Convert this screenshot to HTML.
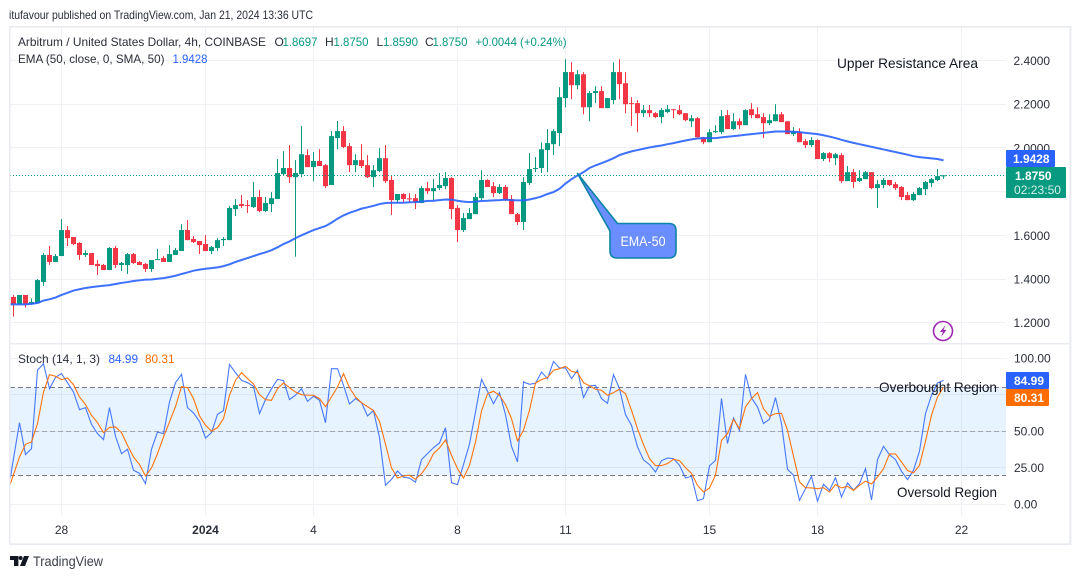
<!DOCTYPE html>
<html lang="en">
<head>
<meta charset="utf-8">
<title>Arbitrum / United States Dollar chart</title>
<style>
html,body{margin:0;padding:0;background:#fff;width:1080px;height:579px;overflow:hidden}
svg{display:block;font-family:"Liberation Sans",sans-serif}
text{font-size:12px;fill:#2a2e39}
</style>
</head>
<body>
<svg id="chart" width="1080" height="579" viewBox="0 0 1080 579" xmlns="http://www.w3.org/2000/svg">
<defs>
<clipPath id="pane-clip"><rect x="10" y="27" width="996" height="490"/></clipPath>
</defs>
<rect width="1080" height="579" fill="#ffffff"/>
<text x="9" y="19" textLength="304" lengthAdjust="spacingAndGlyphs">itufavour published on TradingView.com, Jan 21, 2024 13:36 UTC</text>
<g id="grid"></g>
<rect id="stoch-band" fill="#2196f3" fill-opacity="0.11" x="10" width="996"/>
<g id="levels"></g>
<g id="candles" clip-path="url(#pane-clip)"></g>
<line id="last-price-line" x1="10" x2="1006" stroke="#089981" stroke-width="1" stroke-dasharray="1 2"/>
<path id="ema-line" fill="none" stroke="#2962ff" stroke-opacity="0.9" stroke-width="2" clip-path="url(#pane-clip)"/>
<path id="stoch-k" fill="none" stroke="#2962ff" stroke-opacity="0.85" stroke-width="1.1" clip-path="url(#pane-clip)"/>
<path id="stoch-d" fill="none" stroke="#ff6d00" stroke-opacity="0.95" stroke-width="1.1" clip-path="url(#pane-clip)"/>

<g fill="#e9ebf1">
<rect x="9" y="26" width="1062" height="1.6"/>
<rect x="9" y="26" width="1.6" height="519"/>
<rect x="1069.4" y="26" width="2" height="519"/>
<rect x="9" y="543.4" width="1062" height="1.6"/>
<rect x="10" y="343" width="1060" height="1.5"/>
</g>

<g id="price-axis"></g>
<g id="stoch-axis"></g>
<g id="time-axis"></g>

<g>
<text x="18" y="46" textLength="248" lengthAdjust="spacingAndGlyphs">Arbitrum / United States Dollar, 4h, COINBASE</text>
<text x="274.5" y="46">O</text>
<text x="282.5" y="46" textLength="35" lengthAdjust="spacingAndGlyphs" style="fill:#089981">1.8697</text>
<text x="325" y="46">H</text>
<text x="333.5" y="46" textLength="35" lengthAdjust="spacingAndGlyphs" style="fill:#089981">1.8750</text>
<text x="376.5" y="46">L</text>
<text x="383" y="46" textLength="35" lengthAdjust="spacingAndGlyphs" style="fill:#089981">1.8590</text>
<text x="425" y="46">C</text>
<text x="432.5" y="46" textLength="35" lengthAdjust="spacingAndGlyphs" style="fill:#089981">1.8750</text>
<text x="475.5" y="46" textLength="91" lengthAdjust="spacingAndGlyphs" style="fill:#089981">+0.0044 (+0.24%)</text>
<text x="18" y="63" textLength="146.5" lengthAdjust="spacingAndGlyphs">EMA (50, close, 0, SMA, 50)</text>
<text x="172.5" y="63" textLength="35" lengthAdjust="spacingAndGlyphs" style="fill:#2962ff">1.9428</text>
</g>

<g>
<text x="18" y="363" textLength="82" lengthAdjust="spacingAndGlyphs">Stoch (14, 1, 3)</text>
<text x="108.5" y="363" textLength="29.5" lengthAdjust="spacingAndGlyphs" style="fill:#2962ff">84.99</text>
<text x="145" y="363" textLength="29.5" lengthAdjust="spacingAndGlyphs" style="fill:#ff6d00">80.31</text>
</g>

<text x="837" y="68" textLength="141" lengthAdjust="spacingAndGlyphs" style="font-size:14px;fill:#131722">Upper Resistance Area</text>
<text x="879" y="392" textLength="118" lengthAdjust="spacingAndGlyphs" style="font-size:14px;fill:#131722">Overbought Region</text>
<text x="897" y="497" textLength="100" lengthAdjust="spacingAndGlyphs" style="font-size:14px;fill:#131722">Oversold Region</text>

<g>
<path d="M577.5 173.5 L617.5 223.5 H669 Q676 223.5 676 230.5 V251 Q676 258 669 258 H617 Q610 258 610 251 V231 Z" fill="#6a8eff" stroke="#0b84a5" stroke-width="1.6" stroke-linejoin="round"/>
<text x="643" y="246" text-anchor="middle" textLength="45" lengthAdjust="spacingAndGlyphs" style="font-size:14px;fill:#ffffff">EMA-50</text>
</g>

<g>
<circle cx="943" cy="331" r="9.5" fill="#ffffff" stroke="#9c27b0" stroke-width="1.6"/>
<path d="M945.5 325 L940 332 H943 L941 337 L946.5 330 H943.5 Z" fill="#9c27b0"/>
</g>

<g>
<rect x="1006" y="150" width="49" height="17" rx="1" fill="#2962ff"/>
<text x="1013" y="163" textLength="36.5" lengthAdjust="spacingAndGlyphs" style="fill:#ffffff;font-weight:700">1.9428</text>
</g>
<g>
<rect x="1006" y="167" width="60" height="31" rx="1" fill="#089981"/>
<text x="1015" y="180" textLength="36.5" lengthAdjust="spacingAndGlyphs" style="fill:#ffffff;font-weight:700">1.8750</text>
<text x="1014" y="194" textLength="47" lengthAdjust="spacingAndGlyphs" style="fill:#d5efe9">02:23:50</text>
</g>
<g>
<rect x="1006" y="372" width="43" height="17" rx="1" fill="#2962ff"/>
<text x="1014" y="385" textLength="30" lengthAdjust="spacingAndGlyphs" style="fill:#ffffff;font-weight:700">84.99</text>
</g>
<g>
<rect x="1006" y="389" width="43" height="17" rx="1" fill="#ff6d00"/>
<text x="1014" y="402" textLength="30" lengthAdjust="spacingAndGlyphs" style="fill:#ffffff;font-weight:700">80.31</text>
</g>

<g>
<path d="M10 556 H18.4 V566 H14 V560 H10 Z" fill="#131722"/>
<circle cx="20.6" cy="558" r="2" fill="#131722"/>
<path d="M24 556 H29 L25 566 H20 Z" fill="#131722"/>
<text x="33" y="566" textLength="70" lengthAdjust="spacingAndGlyphs" style="font-size:14px;fill:#3a3e49">TradingView</text>
</g>
</svg>

<script>
const opens = [
1.318,1.284,1.327,1.284,1.289,1.386,1.510,1.478,1.505,1.624,
1.592,1.565,1.510,1.519,1.469,1.464,1.441,1.542,1.464,1.464,
1.514,1.478,1.469,1.446,1.487,1.496,1.478,1.510,1.528,1.624,
1.583,1.574,1.560,1.528,1.542,1.578,1.578,1.720,1.743,1.739,
1.729,1.775,1.711,1.743,1.766,1.880,1.908,1.866,1.880,1.967,
1.912,1.940,1.921,1.830,2.045,2.077,2.008,1.921,1.944,1.921,
1.866,1.894,1.953,1.853,1.761,1.789,1.769,1.770,1.748,1.816,
1.802,1.816,1.825,1.862,1.725,1.624,1.674,1.697,1.770,1.853,
1.825,1.793,1.821,1.766,1.697,1.661,1.839,1.905,1.908,1.990,
2.017,2.068,2.228,2.347,2.287,2.337,2.186,2.251,2.260,2.182,
2.219,2.347,2.296,2.205,2.205,2.159,2.173,2.159,2.141,2.164,
2.177,2.173,2.159,2.122,2.136,2.049,2.026,2.072,2.072,2.150,
2.086,2.122,2.104,2.177,2.154,2.141,2.113,2.122,2.154,2.122,
2.063,2.072,2.031,2.013,2.036,1.949,1.976,1.953,1.967,1.848,
1.889,1.848,1.857,1.889,1.816,1.830,1.853,1.834,1.821,1.784,
1.761,1.784,1.811,1.839,1.853,1.8697];
const highs = [
1.327,1.327,1.327,1.311,1.400,1.519,1.551,1.514,1.674,1.642,
1.592,1.569,1.532,1.519,1.487,1.469,1.546,1.551,1.478,1.519,
1.519,1.482,1.473,1.487,1.537,1.505,1.555,1.542,1.651,1.670,
1.597,1.574,1.601,1.551,1.587,1.592,1.734,1.766,1.784,1.761,
1.844,1.807,1.775,1.798,1.949,1.985,2.013,1.944,2.100,1.994,
1.981,1.994,1.926,2.077,2.123,2.100,2.022,1.971,2.017,1.967,
1.921,1.999,2.013,1.876,1.789,1.793,1.793,1.789,1.825,1.844,
1.857,1.885,1.889,1.866,1.738,1.702,1.725,1.793,1.898,1.857,
1.844,1.834,1.830,1.784,1.702,1.866,1.976,1.958,2.026,2.086,
2.086,2.278,2.406,2.392,2.356,2.347,2.260,2.282,2.282,2.228,
2.392,2.406,2.347,2.232,2.219,2.196,2.196,2.164,2.182,2.196,
2.177,2.196,2.159,2.150,2.141,2.049,2.086,2.104,2.173,2.173,
2.159,2.136,2.177,2.205,2.186,2.159,2.154,2.200,2.164,2.122,
2.095,2.090,2.040,2.049,2.040,1.981,1.981,1.976,1.976,1.917,
1.903,1.898,1.894,1.889,1.853,1.862,1.853,1.844,1.825,1.798,
1.798,1.821,1.848,1.862,1.903,1.875];
const lows = [
1.228,1.284,1.269,1.284,1.289,1.368,1.465,1.478,1.505,1.551,
1.555,1.487,1.501,1.464,1.418,1.441,1.441,1.450,1.436,1.423,
1.469,1.464,1.432,1.432,1.487,1.478,1.478,1.510,1.528,1.578,
1.565,1.514,1.528,1.514,1.528,1.551,1.578,1.688,1.725,1.702,
1.725,1.706,1.706,1.706,1.766,1.876,1.839,1.502,1.866,1.912,
1.848,1.917,1.816,1.830,1.994,1.999,1.889,1.889,1.908,1.862,
1.821,1.889,1.839,1.693,1.748,1.748,1.748,1.720,1.748,1.789,
1.757,1.807,1.811,1.674,1.569,1.615,1.674,1.697,1.761,1.821,
1.775,1.789,1.757,1.697,1.647,1.624,1.830,1.889,1.885,1.889,
1.967,2.008,2.186,2.223,2.269,2.154,2.122,2.205,2.182,2.182,
2.200,2.223,2.159,2.100,2.072,2.141,2.141,2.136,2.113,2.159,
2.136,2.150,2.122,2.095,2.045,2.017,2.026,2.068,2.063,2.086,
2.081,2.086,2.104,2.136,2.136,2.045,2.104,2.122,2.118,2.063,
2.054,2.026,1.999,2.004,1.949,1.940,1.935,1.921,1.839,1.848,
1.816,1.844,1.857,1.811,1.725,1.816,1.825,1.807,1.761,1.761,
1.757,1.784,1.784,1.821,1.848,1.859];
const closes = [
1.284,1.327,1.284,1.295,1.395,1.510,1.478,1.505,1.624,1.587,
1.560,1.510,1.519,1.464,1.459,1.441,1.542,1.464,1.473,1.514,
1.473,1.464,1.446,1.487,1.491,1.478,1.514,1.532,1.624,1.578,
1.569,1.555,1.528,1.546,1.578,1.583,1.725,1.738,1.734,1.737,
1.775,1.711,1.748,1.770,1.885,1.908,1.866,1.885,1.971,1.912,
1.940,1.917,1.825,2.054,2.077,2.004,1.921,1.944,1.917,1.866,
1.898,1.953,1.848,1.761,1.789,1.766,1.767,1.752,1.816,1.802,
1.816,1.830,1.862,1.720,1.624,1.679,1.702,1.775,1.853,1.821,
1.793,1.821,1.761,1.697,1.661,1.844,1.903,1.908,1.994,2.022,
2.077,2.232,2.347,2.287,2.337,2.186,2.251,2.260,2.182,2.228,
2.347,2.292,2.200,2.203,2.159,2.173,2.159,2.141,2.173,2.177,
2.174,2.154,2.127,2.136,2.049,2.026,2.072,2.077,2.145,2.086,
2.122,2.104,2.173,2.150,2.136,2.113,2.127,2.154,2.118,2.063,
2.077,2.026,2.013,2.036,1.949,1.976,1.953,1.971,1.848,1.889,
1.844,1.862,1.889,1.816,1.834,1.853,1.830,1.816,1.775,1.761,
1.789,1.816,1.844,1.857,1.871,1.875];
const emaValues = [
1.284,1.284,1.284,1.286,1.290,1.301,1.307,1.315,1.327,1.337,
1.347,1.353,1.359,1.363,1.366,1.369,1.372,1.377,1.382,1.386,
1.391,1.394,1.397,1.398,1.401,1.404,1.409,1.415,1.423,1.430,
1.438,1.443,1.447,1.450,1.453,1.459,1.467,1.478,1.487,1.496,
1.505,1.514,1.522,1.532,1.545,1.560,1.572,1.587,1.600,1.612,
1.624,1.633,1.642,1.658,1.676,1.691,1.703,1.712,1.722,1.728,
1.735,1.743,1.748,1.749,1.749,1.749,1.751,1.752,1.754,1.757,
1.758,1.761,1.764,1.763,1.758,1.754,1.752,1.754,1.757,1.758,
1.760,1.761,1.763,1.761,1.760,1.760,1.764,1.770,1.778,1.789,
1.798,1.813,1.837,1.857,1.874,1.889,1.908,1.920,1.930,1.941,
1.953,1.967,1.976,1.984,1.990,1.996,2.002,2.007,2.011,2.017,
2.022,2.028,2.034,2.039,2.043,2.045,2.045,2.045,2.048,2.051,
2.054,2.057,2.060,2.063,2.066,2.069,2.072,2.075,2.075,2.075,
2.074,2.072,2.069,2.066,2.063,2.058,2.052,2.045,2.037,2.030,
2.023,2.017,2.011,2.005,1.999,1.993,1.987,1.981,1.975,1.969,
1.962,1.958,1.955,1.952,1.949,1.9428];
const stochK = [
31.3,55.9,34.0,38.1,91.8,96.3,79.2,87.0,89.5,83.3,
76.9,64.8,66.2,54.8,48.4,44.3,66.2,46.6,34.7,37.7,
23.3,21.2,14.2,37.7,49.5,48.4,70.1,83.3,89.0,66.2,
62.6,56.8,45.4,49.1,61.6,64.2,95.7,90.2,84.9,83.3,
80.8,62.1,71.7,79.2,85.6,84.7,71.7,74.7,79.2,70.5,
74.0,71.2,55.9,92.9,92.9,81.5,68.7,72.4,69.6,60.5,
64.2,45.7,13.0,17.1,22.8,18.5,18.0,15.1,30.6,34.7,
38.8,42.0,52.5,14.8,13.5,27.2,41.3,63.2,85.6,77.4,
68.9,76.5,61.4,39.7,29.0,83.8,82.2,82.9,90.6,86.1,
97.9,93.4,93.4,86.1,91.8,73.1,81.1,81.5,72.4,69.2,
88.8,79.2,61.4,54.1,39.3,30.4,27.2,22.1,29.9,31.7,
31.3,26.7,18.0,19.2,2.5,3.9,26.3,30.1,72.4,41.6,
59.1,50.7,89.0,72.8,66.7,55.3,58.2,73.1,55.3,24.0,
19.9,2.7,10.7,19.2,2.1,13.7,9.6,18.3,5.0,14.6,
9.6,14.2,24.4,3.0,30.6,39.7,34.0,30.6,22.6,16.9,
23.3,36.5,62.1,74.7,83.1,84.99];
const stochD = [
20.3,32.4,41.1,42.7,55.3,76.9,88.8,87.7,85.4,86.5,
82.0,73.5,68.3,61.0,55.9,49.1,52.7,53.0,49.1,40.4,
32.4,27.2,19.4,24.9,34.7,46.1,56.4,66.9,80.6,79.9,
72.4,60.5,54.1,50.2,52.5,58.7,74.7,84.9,90.2,86.1,
82.4,75.1,71.7,71.2,79.2,83.1,79.9,76.9,75.1,74.7,
74.7,72.4,66.9,73.5,80.4,89.5,79.9,73.5,69.6,66.9,
64.2,56.8,41.1,24.9,18.0,19.4,19.9,17.1,21.0,26.7,
34.7,38.6,44.1,33.6,24.4,18.0,26.7,42.7,63.9,75.8,
77.4,74.7,68.3,58.7,43.4,50.7,64.4,83.1,85.4,86.8,
91.8,92.9,94.5,91.1,90.2,83.3,81.1,78.8,78.1,74.7,
76.5,78.8,75.8,64.4,51.8,40.9,31.3,26.5,26.5,27.9,
30.8,29.9,25.1,21.2,13.0,8.4,11.2,19.9,43.8,48.4,
58.2,51.8,66.7,72.4,76.5,65.5,60.3,62.1,62.3,50.7,
32.9,15.3,11.4,11.2,10.7,11.4,8.4,13.5,11.2,12.3,
9.6,13.0,15.8,13.9,18.7,24.4,34.5,34.5,29.0,23.1,
21.5,26.7,43.2,61.0,73.5,80.31];
const lastPrice = 1.875;
const priceTicks = [2.4, 2.2, 2.0, 1.8, 1.6, 1.4, 1.2];
const priceLabelTicks = [2.4, 2.2, 2.0, 1.6, 1.4, 1.2];
const stochGrid = [100, 75, 50, 25, 0];
const stochLabelTicks = [100, 50, 25, 0];
const stochLevels = [80, 50, 20];
const timeTickBars = [8, 32, 50, 74, 92, 116, 134, 158];
const timeLabels = ['28', '2024', '4', '8', '11', '15', '18', '22'];

const NS = 'http://www.w3.org/2000/svg';
function xBar(i) { return 13.5 + 6 * i; }
function yPrice(p) { return 60.5 + (2.4 - p) * 218.5; }
function yStoch(v) { return 504.3 - v * 1.46; }
function make(tag, parent) {
  const el = document.createElementNS(NS, tag);
  parent.appendChild(el);
  return el;
}
function linePath(values, yFn) {
  let d = 'M' + xBar(-1) + ' ' + yFn(values[0] - (values[1] - values[0])).toFixed(2);
  values.forEach(function (v, i) { d += ' L' + xBar(i) + ' ' + yFn(v).toFixed(2); });
  return d;
}

const grid = document.getElementById('grid');
priceTicks.forEach(function (t) {
  const g = make('rect', grid);
  
  
  g.setAttribute('x', 10);
  g.setAttribute('width', 996);
  g.setAttribute('y', Math.floor(yPrice(t)));
  g.setAttribute('height', 1);
  g.setAttribute('fill', '#f0f1f4');
});
stochGrid.forEach(function (t) {
  const g = make('rect', grid);
  
  
  g.setAttribute('x', 10);
  g.setAttribute('width', 996);
  g.setAttribute('y', Math.floor(yStoch(t)));
  g.setAttribute('height', 1);
  g.setAttribute('fill', '#f0f1f4');
});
timeTickBars.forEach(function (b) {
  const g1 = make('rect', grid);
  
  
  g1.setAttribute('x', Math.floor(xBar(b)));
  g1.setAttribute('y', 27);
  g1.setAttribute('width', 1);
  g1.setAttribute('height', 489);
  g1.setAttribute('fill', '#f0f1f4');
});

const band = document.getElementById('stoch-band');
band.setAttribute('y', yStoch(stochLevels[0]));
band.setAttribute('height', yStoch(stochLevels[2]) - yStoch(stochLevels[0]));

const levels = document.getElementById('levels');
stochLevels.forEach(function (v) {
  const l = make('line', levels);
  
  
  l.setAttribute('x1', 10);
  l.setAttribute('x2', 1006);
  l.setAttribute('y1', Math.floor(yStoch(v)) + 0.5);
  l.setAttribute('y2', Math.floor(yStoch(v)) + 0.5);
  l.setAttribute('stroke', v === 50 ? '#a3a6af' : '#787b86');
  l.setAttribute('stroke-dasharray', '5 3');
});

const candles = document.getElementById('candles');
opens.forEach(function (o, i) {
  const c = closes[i];
  const col = c >= o ? '#089981' : '#f23645';
  const wick = make('rect', candles);
  
  
  wick.setAttribute('x', xBar(i) - 0.5);
  wick.setAttribute('width', 1);
  wick.setAttribute('y', yPrice(highs[i]).toFixed(2));
  wick.setAttribute('height', (yPrice(lows[i]) - yPrice(highs[i])).toFixed(2));
  wick.setAttribute('fill', col);
  const body = make('rect', candles);
  
  
  const top = yPrice(Math.max(o, c));
  body.setAttribute('x', xBar(i) - 2.5);
  body.setAttribute('width', 5);
  body.setAttribute('y', top.toFixed(2));
  body.setAttribute('height', Math.max(1, yPrice(Math.min(o, c)) - top).toFixed(2));
  body.setAttribute('fill', col);
});

const lp = document.getElementById('last-price-line');
lp.setAttribute('y1', Math.floor(yPrice(lastPrice)) + 0.5);
lp.setAttribute('y2', Math.floor(yPrice(lastPrice)) + 0.5);

document.getElementById('ema-line').setAttribute('d', linePath(emaValues, yPrice));
document.getElementById('stoch-k').setAttribute('d', linePath(stochK, yStoch));
document.getElementById('stoch-d').setAttribute('d', linePath(stochD, yStoch));

const priceAxis = document.getElementById('price-axis');
priceLabelTicks.forEach(function (t) {
  const tx = make('text', priceAxis);
  
  
  tx.setAttribute('x', 1013.5);
  tx.setAttribute('y', yPrice(t) + 4.5);
  tx.setAttribute('textLength', 36.5);
  tx.setAttribute('lengthAdjust', 'spacingAndGlyphs');
  tx.textContent = t.toFixed(4);
});
const stochAxis = document.getElementById('stoch-axis');
stochLabelTicks.forEach(function (t) {
  const tx = make('text', stochAxis);
  
  
  tx.setAttribute('x', 1014);
  tx.setAttribute('y', yStoch(t) + 4);
  tx.textContent = t.toFixed(2);
});
const timeAxis = document.getElementById('time-axis');
timeTickBars.forEach(function (b, i) {
  const tx = make('text', timeAxis);
  
  
  tx.setAttribute('x', xBar(b));
  tx.setAttribute('y', 534);
  tx.setAttribute('text-anchor', 'middle');
  if (timeLabels[i] === '2024') { tx.setAttribute('font-weight', '700'); }
  tx.textContent = timeLabels[i];
});
</script>
</body>
</html>
